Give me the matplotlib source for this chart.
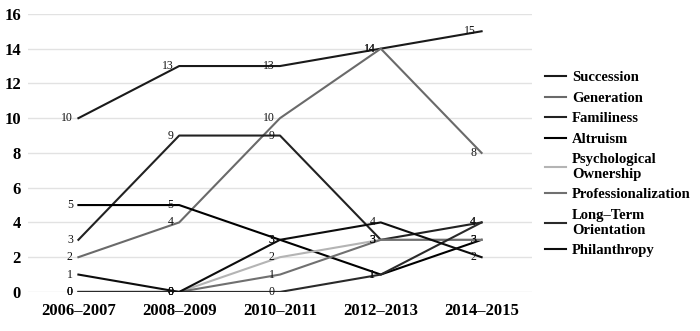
import matplotlib.pyplot as plt

periods = ['2006–2007', '2008–2009', '2010–2011', '2012–2013', '2014–2015']
succession = [10, 13, 13, 14, 15]
generation = [2, 4, 10, 14, 8]
familiness = [3, 9, 9, 3, 4]
altruism = [5, 5, 3, 1, 3]
psych_ownership = [0, 0, 2, 3, 3]
professionalization = [0, 0, 1, 3, 3]
long_term = [0, 0, 0, 1, 4]
philanthropy = [1, 0, 3, 4, 2]

series = [
    ('Succession', succession, '#1a1a1a'),
    ('Generation', generation, '#6a6a6a'),
    ('Familiness', familiness, '#222222'),
    ('Altruism', altruism, '#000000'),
    ('Psychological\nOwnership', psych_ownership, '#b4b4b4'),
    ('Professionalization', professionalization, '#707070'),
    ('Long–Term\nOrientation', long_term, '#2a2a2a'),
    ('Philanthropy', philanthropy, '#0d0d0d'),
]

plt.rcParams['font.family'] = ['Liberation Serif', 'DejaVu Serif']

fig = plt.figure(figsize=(7, 3.31), dpi=100)
ax = fig.add_axes([0.04, 0.118, 0.72, 0.84])

x = list(range(len(periods)))
for name, vals, col in series:
    ax.plot(x, vals, color=col, lw=1.5, label=name)
    for xi, v in zip(x, vals):
        ax.annotate(str(v), (xi, v), xytext=(-4, 0), textcoords='offset points',
                    ha='right', va='center', fontsize=8.5, color='#111111')

ax.set_xlim(-0.5, 4.5)
ax.set_ylim(0, 16)
ax.set_yticks(range(0, 17, 2))
ax.set_xticks(x)
ax.set_xticklabels(periods)
ax.tick_params(length=0, labelsize=12, pad=8)
ax.tick_params(axis='y', pad=5)
for lab in ax.get_xticklabels() + ax.get_yticklabels():
    lab.set_fontweight('bold')
ax.grid(axis='y', color='#e2e2e2', lw=1)
ax.set_axisbelow(True)
for s in ax.spines.values():
    s.set_visible(False)

leg = ax.legend(loc='center left', bbox_to_anchor=(1.0, 0.46), frameon=False,
                fontsize=10.5, handlelength=1.4, handletextpad=0.45, labelspacing=0.5)
for t in leg.get_texts():
    t.set_fontweight('bold')

fig.savefig('out.png', dpi=100)
